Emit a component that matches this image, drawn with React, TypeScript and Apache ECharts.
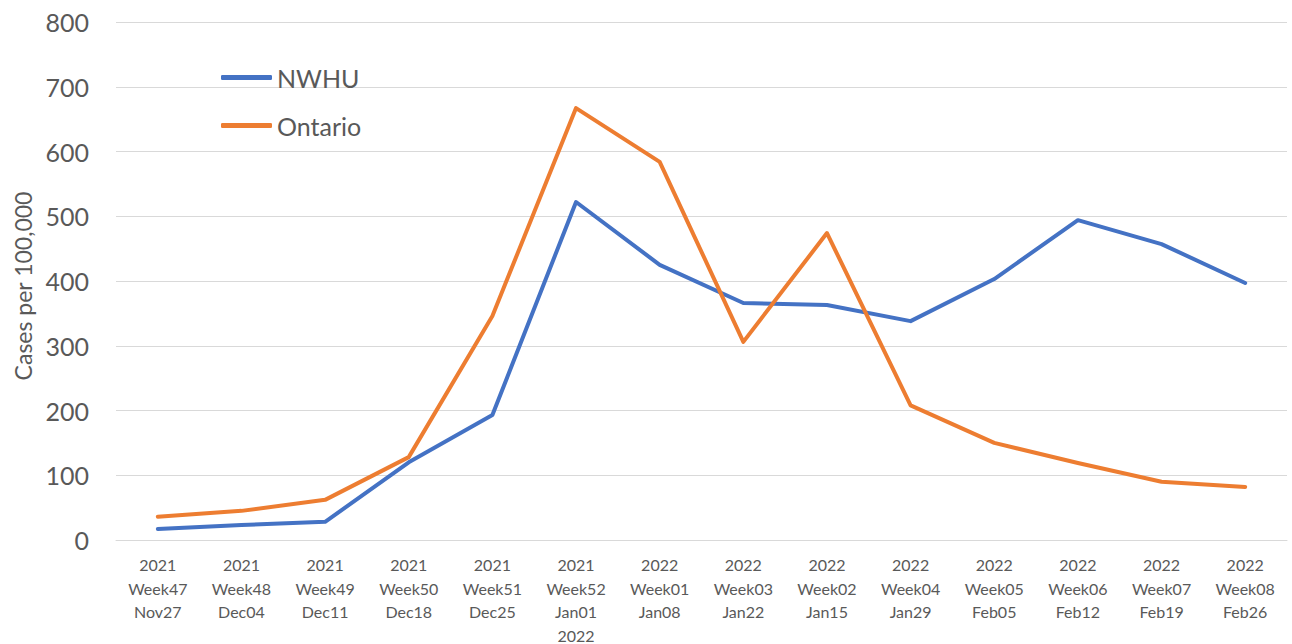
import React, { useEffect, useRef } from "react";
import * as echarts from "echarts";

const categories = [
  "2021\nWeek47\nNov27",
  "2021\nWeek48\nDec04",
  "2021\nWeek49\nDec11",
  "2021\nWeek50\nDec18",
  "2021\nWeek51\nDec25",
  "2021\nWeek52\nJan01\n2022",
  "2022\nWeek01\nJan08",
  "2022\nWeek03\nJan22",
  "2022\nWeek02\nJan15",
  "2022\nWeek04\nJan29",
  "2022\nWeek05\nFeb05",
  "2022\nWeek06\nFeb12",
  "2022\nWeek07\nFeb19",
  "2022\nWeek08\nFeb26",
];

const nwhu = [17, 23, 28, 120, 193, 522, 425, 366, 363, 338, 403, 494, 457, 397];
const ontario = [36, 45, 62, 128, 346, 667, 584, 306, 474, 208, 150, 119, 90, 82];

const FONT = "Lato, 'Open Sans', sans-serif";
const TEXT = "#595959";

export default function App() {
  const ref = useRef<HTMLDivElement>(null);
  useEffect(() => {
    if (!ref.current) return;
    const chart = echarts.init(ref.current, undefined, { renderer: "svg" });
    chart.setOption({
      animation: false,
      backgroundColor: "#ffffff",
      textStyle: { fontFamily: FONT },
      grid: {
        left: 116,
        right: 5,
        top: 22,
        bottom: 104,
        containLabel: false,
        outerBoundsMode: "none",
      },
      legend: {
        orient: "vertical",
        left: 216,
        top: 60,
        itemWidth: 51,
        itemHeight: 5,
        itemGap: 23,
        icon: "roundRect",
        textStyle: { fontSize: 25, color: TEXT, fontFamily: FONT },
        data: ["NWHU", "Ontario"],
      },
      xAxis: {
        type: "category",
        data: categories,
        boundaryGap: true,
        axisLine: { show: true, lineStyle: { color: "#d9d9d9", width: 1 } },
        axisTick: { show: false },
        axisLabel: {
          color: TEXT,
          fontSize: 16,
          lineHeight: 23.5,
          margin: 13,
          interval: 0,
          fontFamily: FONT,
          verticalAlign: "top",
        },
      },
      yAxis: {
        type: "value",
        min: 0,
        max: 800,
        interval: 100,
        name: "Cases per 100,000",
        nameLocation: "middle",
        nameRotate: 90,
        nameGap: 79,
        nameTextStyle: { color: TEXT, fontSize: 23, fontFamily: FONT, padding: [0, 10, 0, 0] },
        axisLine: { show: false },
        axisTick: { show: false },
        axisLabel: { color: TEXT, fontSize: 25, margin: 27, fontFamily: FONT },
        splitLine: { lineStyle: { color: "#d9d9d9", width: 1 } },
      },
      series: [
        {
          name: "NWHU",
          type: "line",
          data: nwhu,
          symbol: "none",
          lineStyle: { color: "#4472C4", width: 4, cap: "round", join: "round" },
          itemStyle: { color: "#4472C4" },
        },
        {
          name: "Ontario",
          type: "line",
          data: ontario,
          symbol: "none",
          lineStyle: { color: "#ED7D31", width: 4, cap: "round", join: "round" },
          itemStyle: { color: "#ED7D31" },
        },
      ],
    });
    return () => chart.dispose();
  }, []);
  return (
    <div
      ref={ref}
      style={{ position: "fixed", left: 0, top: 0, width: 1292, height: 644 }}
    />
  );
}
